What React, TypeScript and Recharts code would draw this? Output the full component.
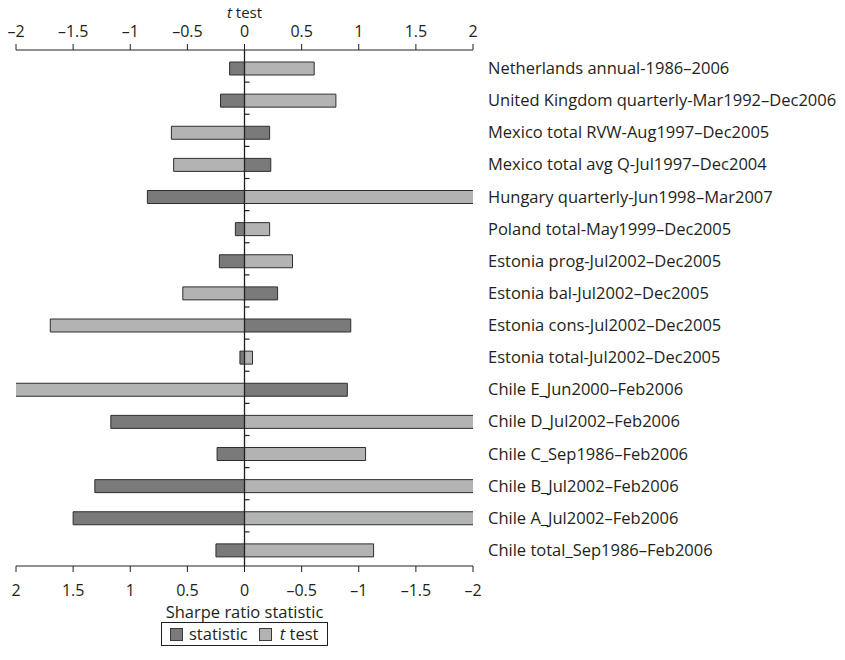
import { Bar, BarChart, Label, Legend, ReferenceLine, XAxis, YAxis } from "recharts";

// Sharpe ratio statistic vs. t test by pension fund series
const categories = [
  "Netherlands annual-1986–2006",
  "United Kingdom quarterly-Mar1992–Dec2006",
  "Mexico total RVW-Aug1997–Dec2005",
  "Mexico total avg Q-Jul1997–Dec2004",
  "Hungary quarterly-Jun1998–Mar2007",
  "Poland total-May1999–Dec2005",
  "Estonia prog-Jul2002–Dec2005",
  "Estonia bal-Jul2002–Dec2005",
  "Estonia cons-Jul2002–Dec2005",
  "Estonia total-Jul2002–Dec2005",
  "Chile E_Jun2000–Feb2006",
  "Chile D_Jul2002–Feb2006",
  "Chile C_Sep1986–Feb2006",
  "Chile B_Jul2002–Feb2006",
  "Chile A_Jul2002–Feb2006",
  "Chile total_Sep1986–Feb2006",
];

const statistic = [
  0.13, 0.21, -0.22, -0.23, 0.85, 0.08, 0.22, -0.29, -0.93, 0.04, -0.9, 1.17, 0.24, 1.31, 1.5, 0.25,
];

const tTest = [
  0.61, 0.8, -0.64, -0.62, 2.03, 0.22, 0.42, -0.54, -1.7, 0.07, -2.03, 2.03, 1.06, 2.03, 2.03, 1.13,
];

const axisTicks = [-2, -1.5, -1, -0.5, 0, 0.5, 1, 1.5, 2];

const data = categories.map((name, i) => ({
  name,
  statistic: statistic[i],
  tTest: tTest[i],
}));

// the chart covers the whole page, so the body margin is cancelled out
const W = 845;
const H = 660;
const MARGIN = { top: 20, right: 17, bottom: 64, left: 16 };
const TOP_AXIS_H = 30;
const BOTTOM_AXIS_H = 30;
const LABEL_W = 355;
const BAND_PAD = 2;
const PLOT_W = W - MARGIN.left - MARGIN.right - LABEL_W;
const PLOT_H = H - MARGIN.top - MARGIN.bottom - TOP_AXIS_H - BOTTOM_AXIS_H;
const ZERO_X = MARGIN.left + PLOT_W / 2;
const BAND = (PLOT_H - BAND_PAD) / categories.length;
const BAR = 13;

const INK = "#231f20";
const DARK = "#7a7a7c";
const LIGHT = "#b1b3b5";
const TICK_FONT = 16;
const FONT = 16.5;

const fmt = (v: number) => (v < 0 ? `–${Math.abs(v)}` : `${v}`);

// category names on the right, plus the short separators on the zero line
function CategoryTick(props: any) {
  const { x, y, payload, index } = props;
  const sepY = y - BAND / 2 - BAND_PAD;
  return (
    <g>
      {index > 0 && (
        <line x1={ZERO_X} x2={ZERO_X + 5} y1={sepY} y2={sepY} stroke={INK} strokeWidth={1.2} />
      )}
      <text x={x + 15} y={y} dy="0.36em" fill={INK} fontSize={FONT} textAnchor="start">
        {payload.value}
      </text>
    </g>
  );
}

function LegendBox({ payload }: any) {
  return (
    <div
      style={{
        display: "flex",
        alignItems: "center",
        border: `1px solid ${INK}`,
        padding: "0 9px 0 8px",
        height: 24,
        boxSizing: "border-box",
        color: INK,
        fontSize: FONT,
        lineHeight: "22px",
      }}
    >
      {(payload || []).map((entry: any, i: number) => (
        <span key={i} style={{ display: "flex", alignItems: "center", marginLeft: i ? 11 : 0 }}>
          <span
            style={{
              width: 13,
              height: 13,
              boxSizing: "border-box",
              background: entry.color,
              border: "1px solid #3a3a3a",
              marginRight: entry.dataKey === "tTest" ? 8 : 6,
            }}
          />
          {entry.dataKey === "tTest" ? (
            <span>
              <i>t</i> test
            </span>
          ) : (
            <span>{entry.value}</span>
          )}
        </span>
      ))}
    </div>
  );
}

export default function App() {
  return (
    <div style={{ fontFamily: "'Open Sans', sans-serif", width: W, height: H, margin: -8 }}>
      <BarChart
        width={W}
        height={H}
        data={data}
        layout="vertical"
        margin={MARGIN}
        barSize={BAR}
        barGap={-BAR}
      >
        <XAxis
          xAxisId="t"
          orientation="top"
          type="number"
          domain={[-2, 2]}
          ticks={axisTicks}
          allowDataOverflow
          height={TOP_AXIS_H}
          tickFormatter={fmt}
          tick={{ fill: INK, fontSize: TICK_FONT }}
          tickMargin={7}
          stroke={INK}
        >
          <Label
            position="top"
            content={() => (
              <text x={ZERO_X} y={17.5} textAnchor="middle" fill={INK} fontSize={15}>
                <tspan fontStyle="italic">t</tspan> test
              </text>
            )}
          />
        </XAxis>
        <XAxis
          xAxisId="s"
          orientation="bottom"
          type="number"
          domain={[-2, 2]}
          ticks={axisTicks}
          reversed
          allowDataOverflow
          height={BOTTOM_AXIS_H}
          tickFormatter={fmt}
          tick={{ fill: INK, fontSize: TICK_FONT }}
          tickMargin={13}
          stroke={INK}
        >
          <Label value="Sharpe ratio statistic" position="bottom" offset={10} fill={INK} fontSize={FONT} />
        </XAxis>
        <YAxis
          type="category"
          dataKey="name"
          orientation="right"
          width={LABEL_W}
          axisLine={false}
          tickLine={false}
          tickSize={0}
          tickMargin={0}
          interval={0}
          padding={{ top: BAND_PAD, bottom: 0 }}
          tick={<CategoryTick />}
        />
        <ReferenceLine x={0} xAxisId="t" stroke={INK} strokeWidth={1.3} />
        <Bar
          xAxisId="s"
          dataKey="statistic"
          name="statistic"
          fill={DARK}
          stroke="#2e2e2e"
          strokeWidth={1}
          isAnimationActive={false}
        />
        <Bar
          xAxisId="t"
          dataKey="tTest"
          name="t test"
          fill={LIGHT}
          stroke="#2e2e2e"
          strokeWidth={1}
          isAnimationActive={false}
        />
        <Legend
          layout="horizontal"
          align="center"
          verticalAlign="middle"
          content={<LegendBox />}
          wrapperStyle={{ left: 161, top: 622, width: "auto", height: "auto" }}
        />
      </BarChart>
    </div>
  );
}
